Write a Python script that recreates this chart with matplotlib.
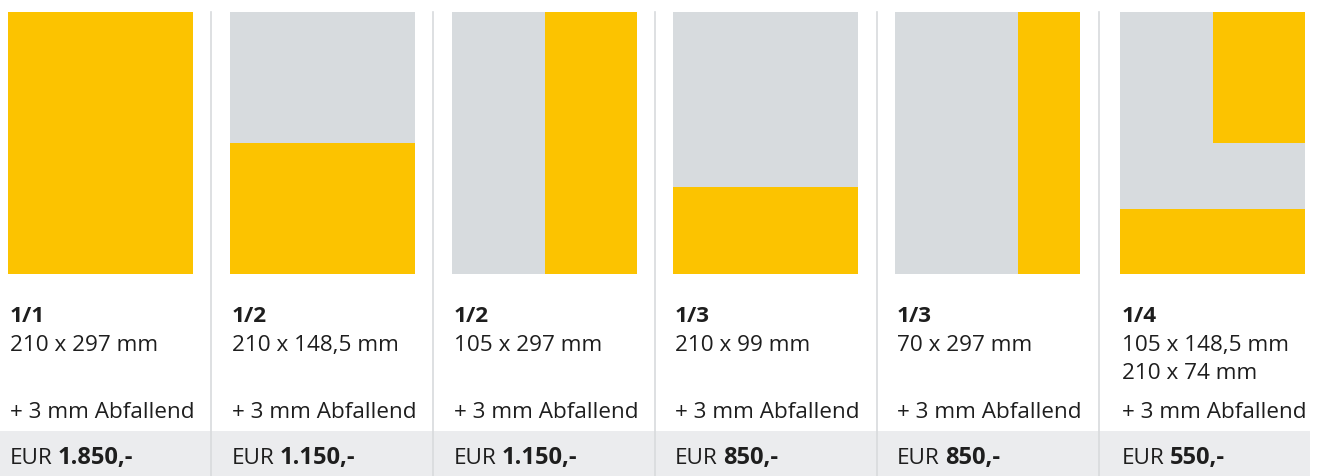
import matplotlib.pyplot as plt
from matplotlib.patches import Rectangle

# Ad formats (A4 page = 210 x 297 mm)
page_w, page_h = 210, 297
formats = ["1/1", "1/2", "1/2", "1/3", "1/3", "1/4"]
dims = [["210 x 297 mm"], ["210 x 148,5 mm"], ["105 x 297 mm"],
        ["210 x 99 mm"], ["70 x 297 mm"], ["105 x 148,5 mm", "210 x 74 mm"]]
prices = ["1.850,-", "1.150,-", "1.150,-", "850,-", "850,-", "550,-"]
bleed = "+ 3 mm Abfallend"

# yellow blocks per ad: (width mm, height mm, anchor)
blocks = [
    [(210, 297, "bottom")],
    [(210, 148.5, "bottom")],
    [(105, 297, "right")],
    [(210, 99, "bottom")],
    [(70, 297, "right")],
    [(105, 148.5, "topright"), (210, 74, "bottom")],
]

yellow = "#fcc300"
grey = "#d7dbde"
band = "#ebecee"
sep = "#d8dadd"
txt = "#1e1e1e"

W, H = 1322, 476
fig = plt.figure(figsize=(W / 100, H / 100), dpi=100)
plt.rcParams["font.family"] = ["Open Sans", "DejaVu Sans"]

bg = fig.add_axes([0, 0, 1, 1])
bg.set_xlim(0, W)
bg.set_ylim(H, 0)
bg.axis("off")

# price band + column separators
bg.add_patch(Rectangle((0, 431), 1310, H - 431, color=band, lw=0))
for xs in [211, 433, 655, 877, 1099]:
    bg.plot([xs, xs], [12, H], color=sep, lw=1.2)

lefts = [8, 230, 452, 673, 895, 1120]
pw, ph, top = 185, 262, 12

fs = 16.2
renderer = fig.canvas.get_renderer()
for i in range(len(formats)):
    ax = fig.add_axes([lefts[i] / W, 1 - (top + ph) / H, pw / W, ph / H])
    ax.set_xlim(0, page_w)
    ax.set_ylim(0, page_h)
    ax.axis("off")
    ax.add_patch(Rectangle((0, 0), page_w, page_h, color=grey, lw=0))
    for w, h, anchor in blocks[i]:
        x0 = page_w - w if "right" in anchor else 0
        y0 = page_h - h if "top" in anchor else 0
        ax.add_patch(Rectangle((x0, y0), w, h, color=yellow, lw=0))

    tx = lefts[i] + 2
    bg.text(tx, 322, formats[i], fontsize=fs, fontweight="bold", color=txt, va="baseline")
    for k, line in enumerate(dims[i]):
        bg.text(tx, 351 + 28 * k, line, fontsize=fs, color=txt, va="baseline")
    bg.text(tx, 418, bleed, fontsize=fs, color=txt, va="baseline")

    # "EUR" regular, price bold right after it on the same baseline
    eur = bg.text(tx, 464, "EUR", fontsize=fs, color=txt, va="baseline")
    x_end = eur.get_window_extent(renderer).x1
    x_end = bg.transData.inverted().transform((x_end, 0))[0]
    bg.text(x_end + 5, 464, prices[i], fontsize=17, fontweight="bold",
            color=txt, va="baseline")

fig.savefig("out.png", dpi=100)
